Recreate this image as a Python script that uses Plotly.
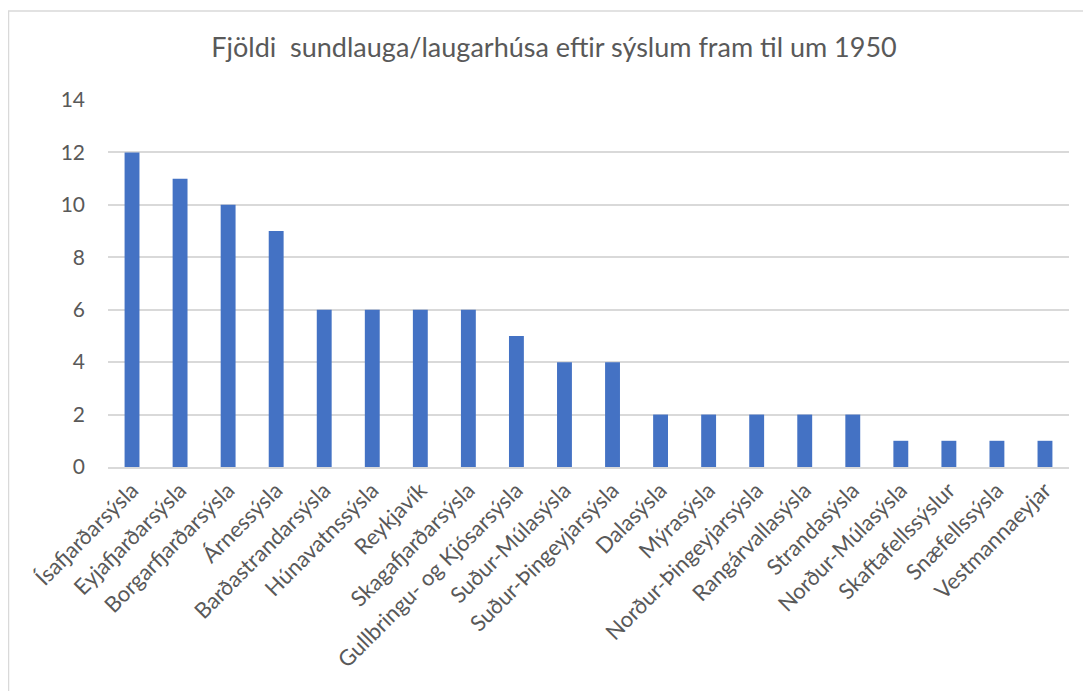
import plotly.graph_objects as go

categories = ["Ísafjarðarsýsla", "Eyjafjarðarsýsla", "Borgarfjarðarsýsla", "Árnessýsla",
              "Barðastrandarsýsla", "Húnavatnssýsla", "Reykjavík", "Skagafjarðarsýsla",
              "Gullbringu- og Kjósarsýsla", "Suður-Múlasýsla", "Suður-Þingeyjarsýsla",
              "Dalasýsla", "Mýrasýsla", "Norður-Þingeyjarsýsla", "Rangárvallasýsla",
              "Strandasýsla", "Norður-Múlasýsla", "Skaftafellssýslur", "Snæfellssýsla",
              "Vestmannaeyjar"]
values = [12, 11, 10, 9, 6, 6, 6, 6, 5, 4, 4, 2, 2, 2, 2, 2, 1, 1, 1, 1]
y_ticks = [0, 2, 4, 6, 8, 10, 12, 14]

# the page body has an 8px margin, so the figure is drawn 8px right/down
OFF = 8
W, H = 1091 - OFF, 691 - OFF
# target plot area on screen: x 108..1069, y 100..467
L, T = 108 - OFF, 100 - OFF
R, B = W - (1069 - OFF), H - (467 - OFF)
pw, ph = W - L - R, H - T - B

fig = go.Figure(go.Bar(x=categories, y=values, marker_color="#4472C4",
                       marker_line_width=0))

def px2paper_x(px):
    return (px - OFF - L) / pw

def px2paper_y(py):
    return (H - B - (py - OFF)) / ph

fig.add_shape(type="rect", xref="paper", yref="paper",
              x0=px2paper_x(8.5), x1=px2paper_x(1110),
              y0=px2paper_y(710), y1=px2paper_y(11),
              line=dict(color="#d9d9d9", width=1.5), layer="below")

font = "Lato, Open Sans, sans-serif"
fig.update_layout(
    width=W, height=H,
    margin=dict(l=L, r=R, t=T, b=B, autoexpand=False),
    paper_bgcolor="white", plot_bgcolor="white",
    bargap=0.69,
    showlegend=False,
    title=dict(text="Fjöldi  sundlauga/laugarhúsa eftir sýslum fram til um 1950",
               x=(554 - OFF) / W, xref="container", xanchor="center",
               y=1 - (48 - OFF) / H, yref="container", yanchor="middle",
               font=dict(family=font, size=27, color="#595959")),
    xaxis=dict(tickangle=-45, tickfont=dict(family=font, size=22, color="#595959"),
               showline=True, linecolor="#d9d9d9", linewidth=1.5,
               ticks="", showgrid=False, automargin=False),
    yaxis=dict(range=[0, 14], tickvals=y_ticks, showgrid=True, gridcolor="#d9d9d9",
               gridwidth=1.5, zeroline=False, showline=False, ticks="",
               ticklabelstandoff=22, automargin=False,
               tickfont=dict(family=font, size=21, color="#595959")),
)

fig.write_html("out.html")
